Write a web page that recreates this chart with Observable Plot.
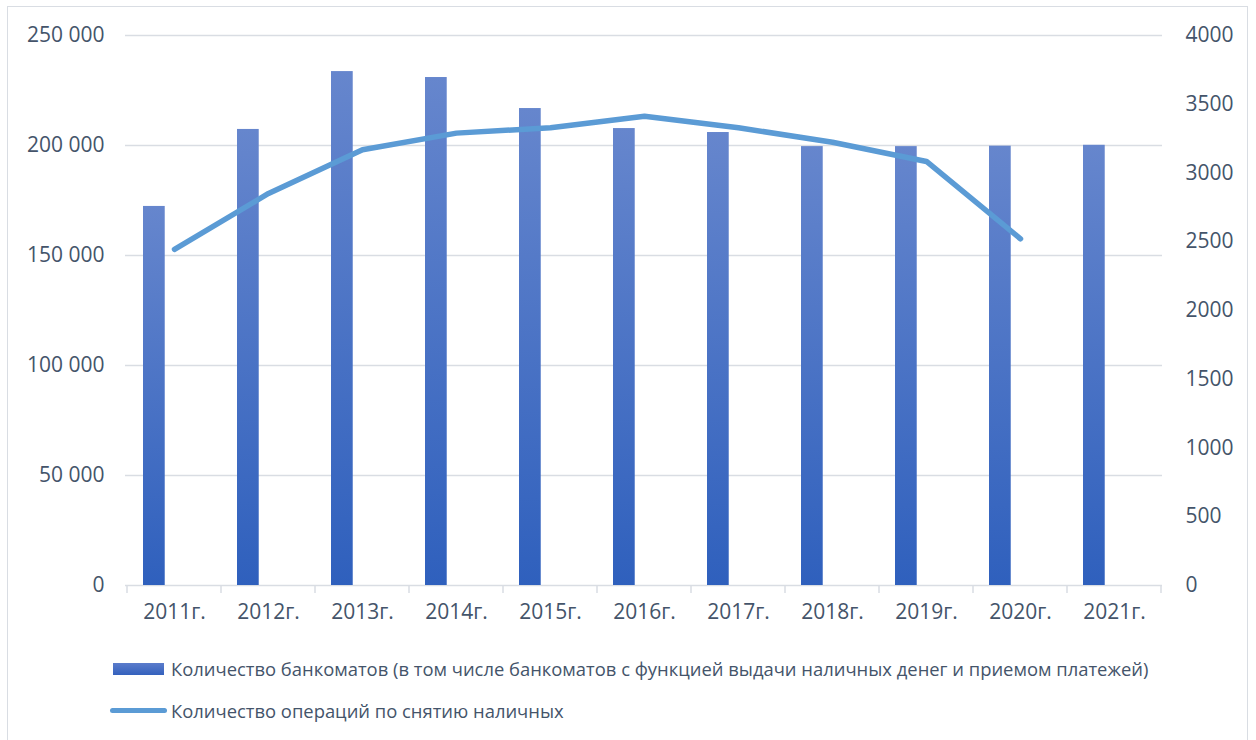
<!DOCTYPE html>
<html>
<head>
<meta charset="utf-8">
<script src="https://cdn.jsdelivr.net/npm/d3@7"></script>
<script src="https://cdn.jsdelivr.net/npm/@observablehq/plot@0.6"></script>
<style>
  html, body { margin: 0; padding: 0; background: #fff; }
  body { width: 1256px; height: 740px; position: relative; overflow: hidden; font-family: "Open Sans", sans-serif; color: #44546a; }
  #frame { position: absolute; left: 7px; top: 6px; width: 1241px; height: 760px; border: 1px solid #d9dde3; box-sizing: border-box; }
  #chart { position: absolute; left: 0; top: 0; }
  .lg { position: absolute; left: 171px; font-size: 18.4px; line-height: 24px; white-space: nowrap; color: #44546a; }
  .sw-bar { position: absolute; left: 113px; top: 663px; width: 51px; height: 12px; background: linear-gradient(#5b7ccb, #3461bd); }
  .sw-line { position: absolute; left: 110px; top: 708px; width: 57px; height: 5px; border-radius: 3px; background: #5b9bd5; }
</style>
</head>
<body>
<div id="frame"></div>
<div id="chart"></div>
<div class="sw-bar"></div>
<div class="lg" id="lg1" style="top:657px"></div>
<div class="sw-line"></div>
<div class="lg" id="lg2" style="top:699px"></div>
<script>
const years = ["2011г.", "2012г.", "2013г.", "2014г.", "2015г.", "2016г.", "2017г.", "2018г.", "2019г.", "2020г.", "2021г."];
const atmCount = [172300, 207300, 233600, 230900, 216800, 207700, 205900, 199500, 199500, 199700, 200100];
const withdrawalYears = ["2011г.", "2012г.", "2013г.", "2014г.", "2015г.", "2016г.", "2017г.", "2018г.", "2019г.", "2020г."];
const withdrawals = [2445, 2851, 3169, 3290, 3329, 3413, 3329, 3224, 3084, 2521];
const leftTicks = [0, 50000, 100000, 150000, 200000, 250000];
const rightTicks = [0, 500, 1000, 1500, 2000, 2500, 3000, 3500, 4000];
const seriesNames = [
  "Количество банкоматов (в том числе банкоматов с функцией выдачи наличных денег и приемом платежей)",
  "Количество операций по снятию наличных"
];

const LEFT_MAX = 250000, RIGHT_MAX = 4000;
const K = LEFT_MAX / RIGHT_MAX;

const barData = years.map((y, i) => ({year: y, value: atmCount[i]}));
const lineData = withdrawalYears.map((y, i) => ({year: y, value: withdrawals[i]}));

const W = 1256, H = 640, ML = 125, MR = 94, MT = 35, MB = 55;
const bw = (W - ML - MR) / years.length;

const defs = () => {
  const g = d3.create("svg:defs");
  const lg = g.append("linearGradient").attr("id", "barGrad").attr("x1", 0).attr("y1", 0).attr("x2", 0).attr("y2", 1);
  lg.append("stop").attr("offset", "0%").attr("stop-color", "#6686cd");
  lg.append("stop").attr("offset", "100%").attr("stop-color", "#2f60bd");
  return g.node();
};

const xTicks = (index, scales, values, dims) => {
  const x = scales.x;
  const band = typeof x.bandwidth === "function" ? x.bandwidth() : (x.bandwidth ?? bw);
  const edges = years.map(y => x(y)).concat([x(years[years.length - 1]) + band]);
  const y0 = dims.height - dims.marginBottom;
  const g = d3.create("svg:g");
  g.selectAll("line").data(edges).join("line")
    .attr("x1", d => d).attr("x2", d => d)
    .attr("y1", y0).attr("y2", y0 + 8)
    .attr("stroke", "#d9dde3").attr("stroke-width", 1.5);
  return g.node();
};

const fmt = d => d3.format(",")(d).replace(/,/g, " ");

const chart = Plot.plot({
  width: W, height: H,
  marginLeft: ML, marginRight: MR, marginTop: MT, marginBottom: MB,
  style: {fontFamily: "'Open Sans', sans-serif", fontSize: "21px", color: "#44546a", background: "transparent"},
  x: {type: "band", domain: years, padding: 0},
  y: {domain: [0, LEFT_MAX]},
  marks: [
    defs,
    Plot.gridY(leftTicks, {stroke: "#d9dde3", strokeOpacity: 1, strokeWidth: 1.3}),
    xTicks,
    Plot.barY(barData, {x: "year", y: "value", fill: "url(#barGrad)", insetLeft: 16, insetRight: bw - 38}),
    Plot.line(lineData, {x: "year", y: d => d.value * K, stroke: "#5b9bd5", strokeWidth: 5.5, strokeLinecap: "round", strokeLinejoin: "round"}),
    Plot.axisY(leftTicks, {anchor: "left", tickSize: 0, tickPadding: 21, tickFormat: fmt, label: null}),
    Plot.axisY(rightTicks.map(v => v * K), {anchor: "right", tickSize: 0, tickPadding: 23, tickFormat: d => String(Math.round(d / K)), label: null}),
    Plot.axisX({tickSize: 0, tickPadding: 19, label: null})
  ]
});
document.getElementById("chart").appendChild(chart);
document.getElementById("lg1").textContent = seriesNames[0];
document.getElementById("lg2").textContent = seriesNames[1];
</script>
</body>
</html>
